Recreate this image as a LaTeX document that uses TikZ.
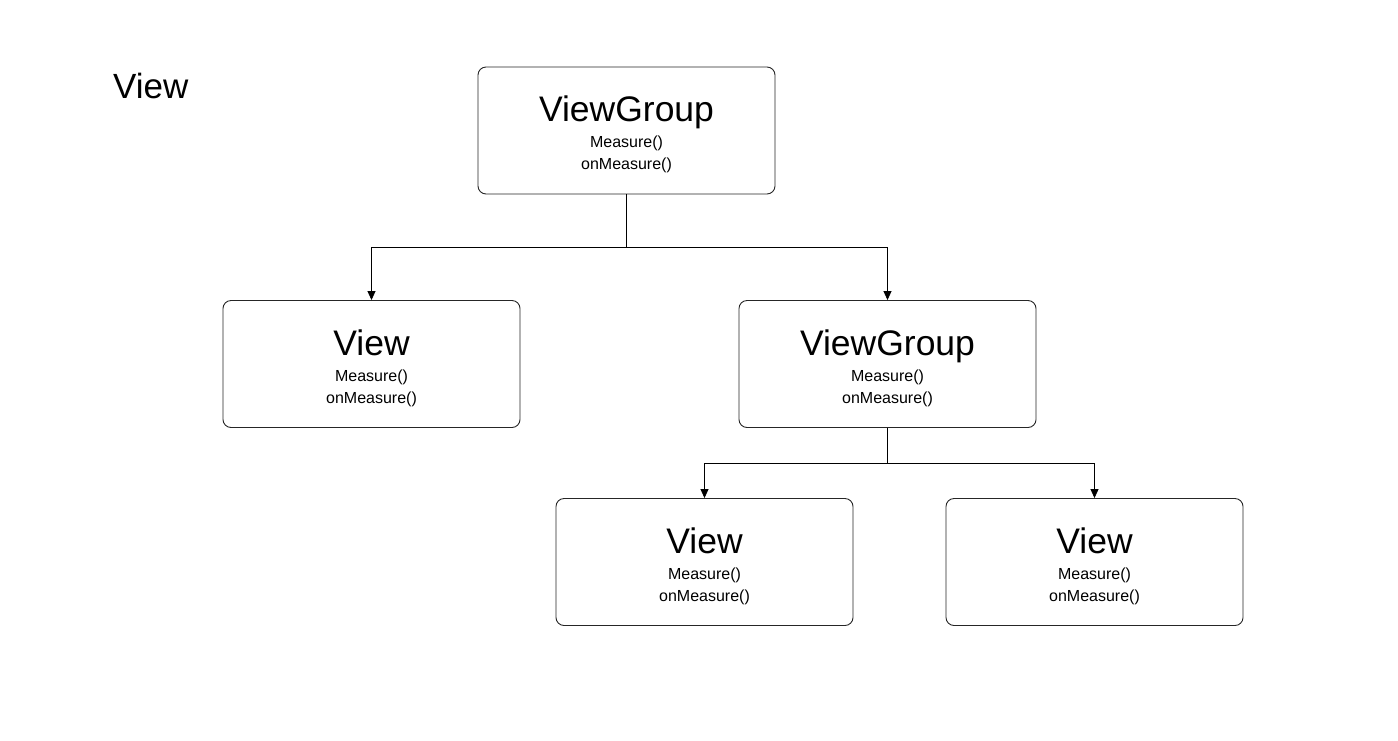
\documentclass[tikz,border=0pt]{standalone}
\usepackage{fontspec}
\setmainfont{Liberation Sans}
\usetikzlibrary{arrows.meta}
\begin{document}
\begin{tikzpicture}[x=1pt,y=-1pt,
  box/.style={draw=black!85, line width=0.9pt, rounded corners=8pt, minimum width=297pt, minimum height=127pt, inner sep=0pt},
  big/.style={font=\fontsize{35.5}{40}\selectfont, inner sep=0pt, anchor=base},
  small/.style={font=\fontsize{16}{18}\selectfont, inner sep=0pt, anchor=base},
  conn/.style={line width=0.8pt, black},
  arr/.style={conn, -{Triangle[length=9pt,width=8pt]}}]
\useasboundingbox (0,0) rectangle (1398,740);
\node[font=\fontsize{35}{40}\selectfont, inner sep=0pt, anchor=base west] (title) at (113,98) {View};
% boxes
\node[box] (top) at (626.5,130.5) {};
\node[box] (v1) at (371.5,364) {};
\node[box] (vg2) at (887.5,364) {};
\node[box] (b1) at (704.5,562) {};
\node[box] (b2) at (1094.5,562) {};
% texts
\foreach \n/\t in {top/ViewGroup, v1/View, vg2/ViewGroup, b1/View, b2/View}{
  \node[big] (\n-t) at ([yshift=-55pt]\n.north) {\t};
  \node[small] (\n-m) at ([yshift=-81pt]\n.north) {Measure()};
  \node[small] (\n-o) at ([yshift=-103pt]\n.north) {onMeasure()};
}
% connectors
\coordinate (j1) at (626.5,247);
\coordinate (j2) at (887.5,463);
\draw[conn] (top.south) -- (j1);
\draw[arr] (j1) -| (v1.north);
\draw[arr] (j1) -| (vg2.north);
\draw[conn] (vg2.south) -- (j2);
\draw[arr] (j2) -| (b1.north);
\draw[arr] (j2) -| (b2.north);
\end{tikzpicture}
\end{document}
